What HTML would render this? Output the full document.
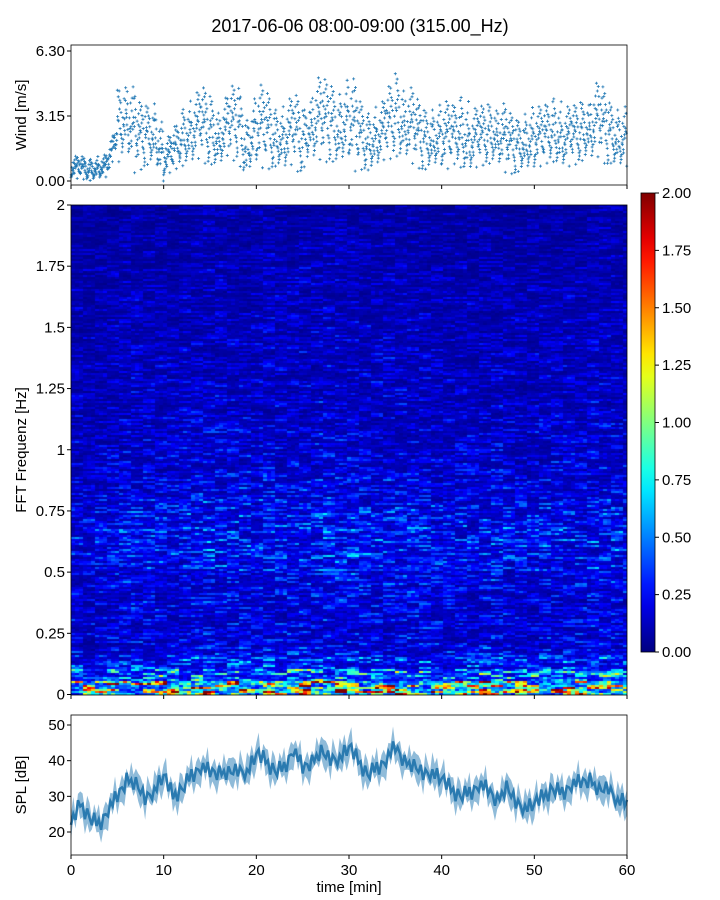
<!DOCTYPE html>
<html><head><meta charset="utf-8">
<style>
body{margin:0;background:#fff;width:720px;height:900px;overflow:hidden;position:relative;font-family:"Liberation Sans",sans-serif;}
svg{position:absolute;left:0;top:0}
canvas{position:absolute;left:71px;top:205px}
text{font-family:"Liberation Sans",sans-serif;fill:#000}
</style></head>
<body>
<canvas id="hm" width="556" height="490"></canvas>
<svg id="s" width="720" height="900"></svg>
<script>
// ---- data ----
const minutes=[0,1,2,3,4,5,6,7,8,9,10,11,12,13,14,15,16,17,18,19,20,21,22,23,24,25,26,27,28,29,30,31,32,33,34,35,36,37,38,39,40,41,42,43,44,45,46,47,48,49,50,51,52,53,54,55,56,57,58,59,60];
const windMean=[0.6,0.6,0.5,0.6,0.7,2.4,3.2,2.0,2.0,2.3,1.0,1.3,2.0,2.3,2.6,2.3,2.0,2.6,2.6,1.5,2.6,2.3,2.0,2.0,2.3,1.8,2.8,2.8,2.6,2.4,3.0,2.1,1.8,2.0,2.4,3.0,2.8,2.4,1.8,2.0,2.1,2.0,2.3,1.8,2.0,2.1,2.3,1.8,1.5,1.8,2.0,2.0,2.4,2.0,2.0,2.2,2.6,2.8,2.2,2.0,2.0];
const windSpread=[0.3,0.3,0.3,0.3,0.35,1.0,1.1,0.9,0.8,0.8,0.5,0.6,0.8,0.9,1.0,0.9,0.8,1.0,1.0,0.8,1.1,1.0,0.8,0.9,1.0,0.8,1.1,1.1,1.0,1.0,1.2,0.9,0.8,0.8,1.0,1.1,1.0,0.9,0.8,0.8,0.9,0.8,1.0,0.8,0.8,0.8,0.9,0.8,0.7,0.8,0.8,0.8,0.9,0.8,0.8,0.8,1.0,1.0,0.8,0.8,0.8];
const jitter=[-1.4,0.3,1.1,-0.6,0.9,-0.2,1.6,-1.0,0.1,0.6,-0.8,1.3,-0.3,0.4,-1.2,2.0,-0.5,0.8,-0.1,1.0,-1.6,0.2,0.7,-0.7,1.4,-0.4,0.0,1.8,-0.9,0.5];
const spl=[22,28,24,22,26,30,35,33,30,31,36,30,32,36,38,37,37,36,38,36,42,40,37,38,43,38,40,42,41,40,44,40,36,38,40,44,40,38,37,36,35,32,30,31,33,32,29,32,29,26,28,30,32,31,33,34,35,31,33,28,29];
const splNoise=[0,2,-2,3,-1,1,-3,2,0,-2,3,-1,2,-3,1,0,-2,2,-1,3,-2,1,0,-3,2,-1,1,-2,3,0,-1,2,-3,1,0,-2,2,-1,3,-2];
const freqProfile=[1.25,0.6,0.38,0.28,0.24,0.23,0.23,0.24,0.25,0.27,0.30,0.33,0.33,0.33,0.31,0.28,0.25,0.23,0.22,0.21,0.20,0.20,0.19,0.19,0.18,0.18,0.17,0.17,0.17,0.16,0.16,0.15,0.15,0.14,0.14,0.13,0.13,0.12,0.11,0.10];
const timeMod=[0.9,0.85,0.85,0.9,0.95,1.0,1.05,1.0,1.0,1.0,0.95,0.95,1.05,1.1,1.15,1.1,1.05,1.05,1.1,1.0,1.1,1.1,1.05,1.05,1.15,1.1,1.15,1.2,1.15,1.15,1.2,1.1,1.05,1.05,1.1,1.15,1.1,1.05,1.0,1.0,1.0,0.95,1.0,0.95,1.0,1.0,1.05,0.95,0.95,0.95,1.0,1.0,1.05,1.0,1.0,1.05,1.1,1.1,1.05,1.0];
const cbTicks=["0.00","0.25","0.50","0.75","1.00","1.25","1.50","1.75","2.00"];
const freqTicks=["0","0.25","0.5","0.75","1","1.25","1.5","1.75","2"];
const windTicks=["0.00","3.15","6.30"];
const splTicks=["20","30","40","50"];
const timeTicks=["0","10","20","30","40","50","60"];

// ---- helpers ----
const NS="http://www.w3.org/2000/svg";
const S=document.getElementById('s');
function mk(tag,attrs,parent,txt){const e=document.createElementNS(NS,tag);for(const k in attrs)e.setAttribute(k,attrs[k]);if(txt!==undefined)e.textContent=txt;(parent||S).appendChild(e);return e;}
const X0=71,X1=627;
const xs=t=>X0+(t/60)*(X1-X0);
const yW=v=>181-v*(65/3.15);
const yF=f=>694.5-f*(489.5/2);
const yS=v=>832-(v-20)*(107/30);
const yC=v=>652-v*(459/2);
function jet(v){v=Math.max(0,Math.min(1,v));const c=x=>Math.max(0,Math.min(1,x));return [c(1.5-Math.abs(4*v-3)),c(1.5-Math.abs(4*v-2)),c(1.5-Math.abs(4*v-1))].map(x=>Math.round(x*255));}
function hsh(a,b){let h=(a*374761393+b*668265263)|0;h=(h^(h>>>13))*1274126177|0;return ((h^(h>>>16))>>>0)/4294967296;}

// title
let e=mk('text',{x:360,y:32,'text-anchor':'middle','font-size':18},S,'2017-06-06 08:00-09:00 (315.00_Hz)');


// ---- wind panel ----
const gW=mk('g',{});

for(let i=0;i<minutes.length-1;i++){
  for(let k=0;k<jitter.length;k++){
    const f=k/jitter.length;
    const m=windMean[i]*(1-f)+windMean[i+1]*f;
    const v=Math.max(0,m+windSpread[i]*jitter[(k*7+i*3)%jitter.length]);
    const x=xs(minutes[i]+f), y=yW(v);
    const p=mk('path',{d:`M${x-1.5},${y}h3M${x},${y-1.5}v3`,stroke:'#1f77b4','stroke-width':0.8},gW);
    
  }
}
e=mk('rect',{x:X0,y:45,width:X1-X0,height:140,fill:'none',stroke:'#000','stroke-width':0.8});

windTicks.forEach(t=>{const y=yW(+t);mk('line',{x1:X0-4,x2:X0,y1:y,y2:y,stroke:'#000'});
 e=mk('text',{x:X0-6,y:y+5,'text-anchor':'end','font-size':15},S,t);});
timeTicks.forEach(t=>{const x=xs(+t);mk('line',{x1:x,x2:x,y1:185,y2:189,stroke:'#000'});});
e=mk('text',{x:26,y:115,'text-anchor':'middle','font-size':15,transform:'rotate(-90 26 115)'},S,'Wind [m/s]');


// ---- heatmap ----
const cv=document.getElementById('hm'),cx=cv.getContext('2d');
const nT=139,nF=245;
for(let ti=0;ti<nT;ti++){
  const t=ti/nT*60, mi=Math.min(timeMod.length-1,Math.floor(t));
  for(let fi=0;fi<nF;fi++){
    const f=fi/nF*2;
    const pi=Math.min(freqProfile.length-1,Math.floor(f/0.05));
    const a=hsh(fi,Math.floor(ti/3)), b=hsh(fi+999,ti);
    const tex=0.15+1.7*a*a*(0.5+0.5*b)+0.3*b;
    const v=freqProfile[pi]*timeMod[mi]*tex;
    const c=jet(v/2);
    cx.fillStyle=`rgb(${c[0]},${c[1]},${c[2]})`;
    cx.fillRect(ti*4,490-(fi+1)*2,4,2);
  }
}
e=mk('rect',{x:X0,y:205,width:X1-X0,height:490,fill:'none',stroke:'#000','stroke-width':0.8});

freqTicks.forEach(t=>{const y=yF(+t);mk('line',{x1:X0-4,x2:X0,y1:y,y2:y,stroke:'#000'});
 e=mk('text',{x:X0-6,y:y+5,'text-anchor':'end','font-size':15},S,t);});
timeTicks.forEach(t=>{const x=xs(+t);mk('line',{x1:x,x2:x,y1:695,y2:699,stroke:'#000'});});
e=mk('text',{x:26,y:450,'text-anchor':'middle','font-size':15,transform:'rotate(-90 26 450)'},S,'FFT Frequenz [Hz]');


// ---- colorbar ----
const defs=mk('defs',{});const lg=mk('linearGradient',{id:'jet',x1:0,y1:1,x2:0,y2:0},defs);
for(let i=0;i<=20;i++){const c=jet(i/20);mk('stop',{offset:i/20,'stop-color':`rgb(${c})`},lg);}
e=mk('rect',{x:641,y:193,width:14,height:459,fill:'url(#jet)',stroke:'#000','stroke-width':0.8});

cbTicks.forEach(t=>{const y=yC(+t);mk('line',{x1:655,x2:659,y1:y,y2:y,stroke:'#000'});
 e=mk('text',{x:662,y:y+5,'font-size':15},S,t);});

// ---- SPL panel ----
let up='',lo='',ln='';
const nS=240;
const sv=s=>{const t=s/nS*60,i=Math.min(59,Math.floor(t)),f=t-i;return spl[i]*(1-f)+spl[i+1]*f+splNoise[s%splNoise.length]*0.8;};
for(let s=0;s<=nS;s++){const t=s/nS*60,v=sv(s);up+=`${xs(t)},${yS(v+3+splNoise[(s*3)%splNoise.length]*0.6)} `;ln+=`${xs(t)},${yS(v)} `;}
for(let s=nS;s>=0;s--){const t=s/nS*60,v=sv(s);lo+=`${xs(t)},${yS(v-3-splNoise[(s*5+1)%splNoise.length]*0.6)} `;}
e=mk('polygon',{points:up+lo,fill:'#1f77b4','fill-opacity':0.5});

e=mk('polyline',{points:ln,fill:'none',stroke:'#2a7ab0','stroke-width':2.5});

e=mk('rect',{x:X0,y:715,width:X1-X0,height:140,fill:'none',stroke:'#000','stroke-width':0.8});

splTicks.forEach(t=>{const y=yS(+t);mk('line',{x1:X0-4,x2:X0,y1:y,y2:y,stroke:'#000'});
 e=mk('text',{x:X0-6,y:y+5,'text-anchor':'end','font-size':15},S,t);});
timeTicks.forEach(t=>{const x=xs(+t);mk('line',{x1:x,x2:x,y1:855,y2:859,stroke:'#000'});
 e=mk('text',{x:x,y:875,'text-anchor':'middle','font-size':15},S,t);});
e=mk('text',{x:26,y:785,'text-anchor':'middle','font-size':15,transform:'rotate(-90 26 785)'},S,'SPL [dB]');

e=mk('text',{x:349,y:892,'text-anchor':'middle','font-size':15},S,'time [min]');

</script>
</body></html>
